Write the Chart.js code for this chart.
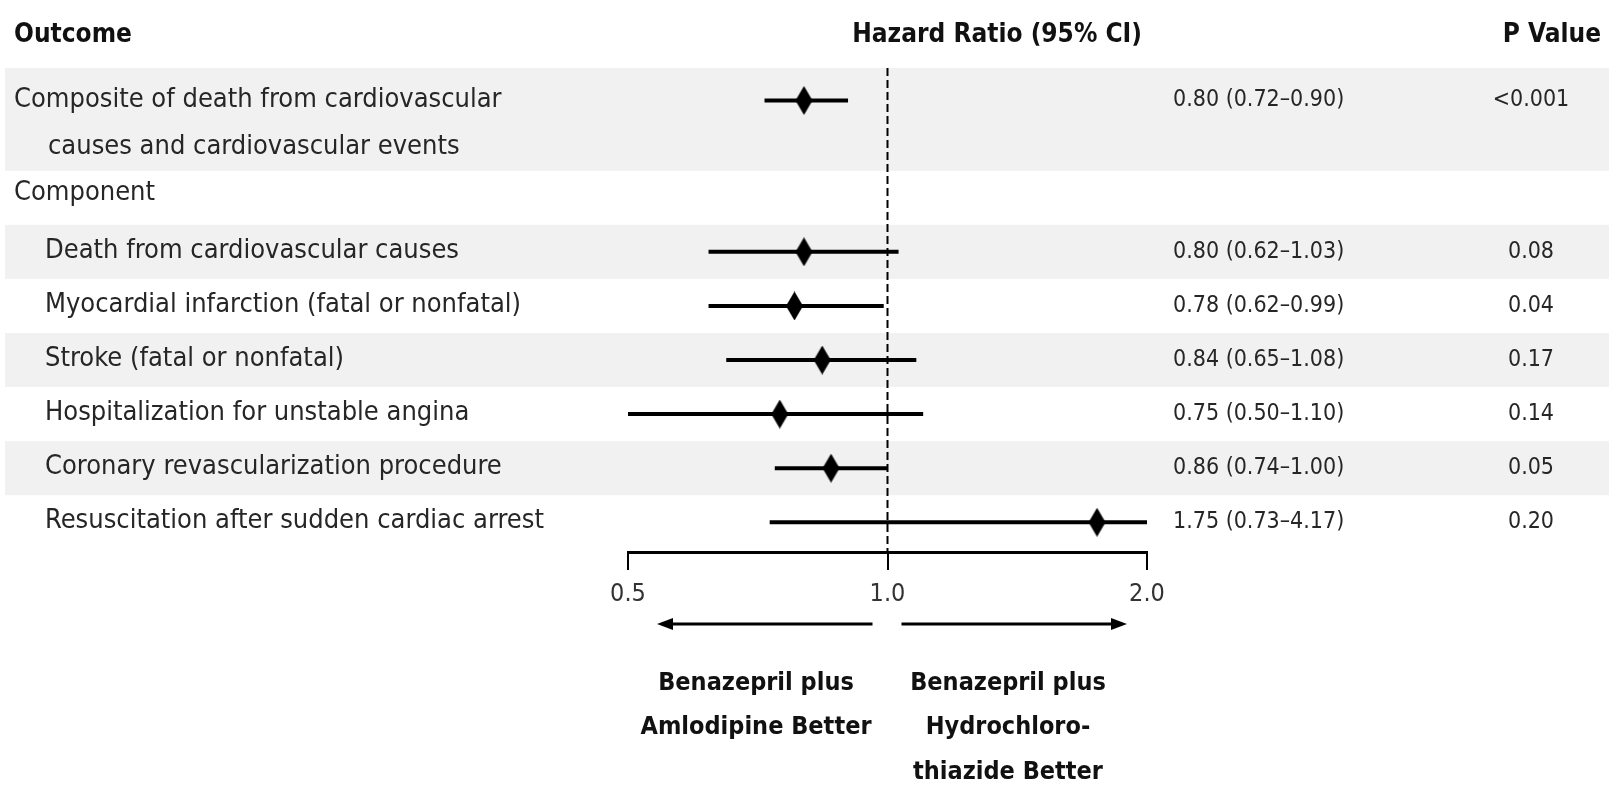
<!DOCTYPE html>
<html>
<head>
<meta charset="utf-8">
<script src="https://cdn.jsdelivr.net/npm/chart.js@4.4.1/dist/chart.umd.min.js"></script>
<style>
  html, body { margin: 0; padding: 0; background: #fff; }
  #wrap { width: 1609px; height: 787px; position: relative; }
</style>
</head>
<body>
<div id="wrap"><canvas id="graficoForest"></canvas></div>
<script>
/* ============================================================
   DADOS
============================================================ */
const outcomes = [
  ["Composite of death from cardiovascular", "causes and cardiovascular events"],
  ["Death from cardiovascular causes"],
  ["Myocardial infarction (fatal or nonfatal)"],
  ["Stroke (fatal or nonfatal)"],
  ["Hospitalization for unstable angina"],
  ["Coronary revascularization procedure"],
  ["Resuscitation after sudden cardiac arrest"],
];
const hazardRatio = [0.80, 0.80, 0.78, 0.84, 0.75, 0.86, 1.75];
const ciLow = [0.72, 0.62, 0.62, 0.65, 0.50, 0.74, 0.73];
const ciHigh = [0.90, 1.03, 0.99, 1.08, 1.10, 1.00, 4.17];
const pValues = ["<0.001", "0.08", "0.04", "0.17", "0.14", "0.05", "0.20"];
const tickValues = [0.5, 1.0, 2.0];
const groupLabel = "Component";

/* ============================================================
   LAYOUT (linhas da tabela)
============================================================ */
const rowOf = [0.2, 3, 4, 5, 6, 7, 8]; // linha de cada desfecho
const yMin = -0.4;
const yMax = 8.55;
// faixas cinzas [início, fim] em unidades de linha
const faixas = [[-0.4, 1.5], [2.5, 3.5], [4.5, 5.5], [6.5, 7.5]];
const FONT = "'DejaVu Sans Condensed', 'DejaVu Sans', sans-serif";

// diamante alto usado como marcador
function diamante(w, h) {
  const c = document.createElement("canvas");
  c.width = w;
  c.height = h;
  const g = c.getContext("2d");
  g.fillStyle = "#000";
  g.beginPath();
  g.moveTo(w / 2, 0);
  g.lineTo(w, h / 2);
  g.lineTo(w / 2, h);
  g.lineTo(0, h / 2);
  g.closePath();
  g.fill();
  return c;
}

const datasets = [];
// intervalos de confiança
hazardRatio.forEach((_, i) => {
  datasets.push({
    data: [
      { x: ciLow[i], y: rowOf[i] },
      { x: ciHigh[i], y: rowOf[i] },
    ],
    showLine: true,
    borderColor: "#000",
    borderWidth: 4,
    pointRadius: 0,
  });
});
// estimativas pontuais
datasets.push({
  data: hazardRatio.map((v, i) => ({ x: v, y: rowOf[i] })),
  pointStyle: diamante(17, 29),
  pointRadius: 10,
  showLine: false,
});

/* ============================================================
   PLUGIN: faixas, linha tracejada e textos
============================================================ */
const decoracao = {
  id: "decoracao",
  beforeDraw(chart) {
    const { ctx, width, height } = chart;
    const y = chart.scales.y;
    ctx.save();
    ctx.fillStyle = "#fff";
    ctx.fillRect(0, 0, width, height);
    ctx.fillStyle = "#f1f1f1";
    faixas.forEach(([a, b]) => {
      const t = y.getPixelForValue(a);
      const f = y.getPixelForValue(b);
      ctx.fillRect(5, t, width - 5, f - t);
    });
    ctx.restore();
  },
  beforeDatasetsDraw(chart) {
    const { ctx, chartArea } = chart;
    const x1 = chart.scales.x.getPixelForValue(1);
    ctx.save();
    ctx.strokeStyle = "#000";
    ctx.lineWidth = 2;
    ctx.setLineDash([8, 4]);
    ctx.beginPath();
    ctx.moveTo(x1, chartArea.top);
    ctx.lineTo(x1, chartArea.bottom);
    ctx.stroke();
    ctx.restore();
  },
  afterDraw(chart) {
    const { ctx } = chart;
    const x = chart.scales.x;
    const y = chart.scales.y;
    ctx.save();
    ctx.textBaseline = "middle";

    // cabeçalho
    ctx.fillStyle = "#111";
    ctx.font = "bold 26px " + FONT;
    ctx.textAlign = "left";
    ctx.fillText("Outcome", 14, 35);
    ctx.textAlign = "right";
    ctx.fillText("Hazard Ratio (95% CI)", 1142, 35);
    ctx.fillText("P Value", 1601, 35);

    // rótulos dos desfechos
    ctx.fillStyle = "#262626";
    ctx.font = "27px " + FONT;
    ctx.textAlign = "left";
    outcomes.forEach((linhas, i) => {
      const base = y.getPixelForValue(rowOf[i]);
      if (i === 0) {
        ctx.fillText(linhas[0], 14, base);
        ctx.fillText(linhas[1], 48, y.getPixelForValue(1) + 3);
      } else {
        ctx.fillText(linhas[0], 45, base - 1);
      }
    });
    ctx.fillText(groupLabel, 14, y.getPixelForValue(2) - 5);

    // colunas de valores
    ctx.font = "23px " + FONT;
    outcomes.forEach((_, i) => {
      const yy = y.getPixelForValue(rowOf[i]);
      const txt =
        hazardRatio[i].toFixed(2) +
        " (" + ciLow[i].toFixed(2) + "\u2013" + ciHigh[i].toFixed(2) + ")";
      ctx.textAlign = "left";
      ctx.fillText(txt, 1173, yy);
      ctx.textAlign = "center";
      ctx.fillText(pValues[i], 1531, yy);
    });

    // setas de direção
    const x1 = x.getPixelForValue(1);
    const ay = 624;
    const seta = (from, to) => {
      const dir = Math.sign(to - from);
      ctx.strokeStyle = "#000";
      ctx.fillStyle = "#000";
      ctx.lineWidth = 3;
      ctx.beginPath();
      ctx.moveTo(from, ay);
      ctx.lineTo(to - dir * 12, ay);
      ctx.stroke();
      ctx.beginPath();
      ctx.moveTo(to, ay);
      ctx.lineTo(to - dir * 16, ay - 6);
      ctx.lineTo(to - dir * 16, ay + 6);
      ctx.closePath();
      ctx.fill();
    };
    seta(x1 - 15, x.getPixelForValue(0.5) + 29);
    seta(x1 + 14, x.getPixelForValue(2) - 20);

    ctx.fillStyle = "#111";
    ctx.font = "bold 25px " + FONT;
    ctx.textAlign = "center";
    ctx.fillText("Benazepril plus", 756, 683);
    ctx.fillText("Amlodipine Better", 756, 727);
    ctx.fillText("Benazepril plus", 1008, 683);
    ctx.fillText("Hydrochloro-", 1008, 727);
    ctx.fillText("thiazide Better", 1008, 772);
    ctx.restore();
  },
};

/* ============================================================
   GRÁFICO
============================================================ */
new Chart(document.getElementById("graficoForest"), {
  type: "scatter",
  data: { datasets },
  options: {
    responsive: true,
    maintainAspectRatio: false,
    animation: false,
    layout: { padding: { left: 628, right: 462, top: 68, bottom: 0 } },
    plugins: {
      legend: { display: false },
      tooltip: { enabled: false },
    },
    scales: {
      x: {
        type: "logarithmic",
        min: 0.5,
        max: 2.0,
        afterBuildTicks: (scale) => {
          scale.ticks = tickValues.map((v) => ({ value: v }));
        },
        afterFit: (scale) => {
          scale.height = 235;
        },
        border: { display: true, color: "#000", width: 3 },
        grid: {
          drawOnChartArea: false,
          drawTicks: true,
          tickLength: 18,
          color: "#000",
          lineWidth: 2,
        },
        ticks: {
          padding: 9,
          color: "#333",
          font: { family: FONT, size: 25 },
          callback: (v) => Number(v).toFixed(1),
        },
      },
      y: {
        type: "linear",
        min: yMin,
        max: yMax,
        reverse: true,
        display: false,
      },
    },
  },
  plugins: [decoracao],
});
</script>
</body>
</html>
